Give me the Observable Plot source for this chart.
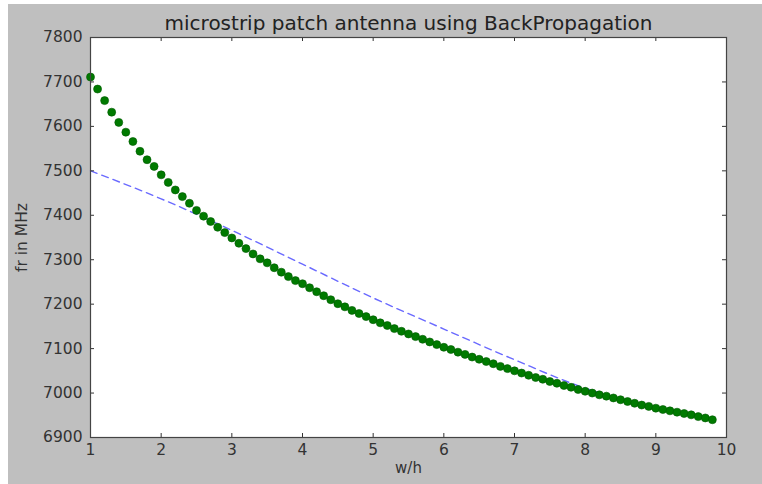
<!DOCTYPE html>
<html>
<head>
<meta charset="utf-8">
<script src="https://cdn.jsdelivr.net/npm/d3@7"></script>
<script src="https://cdn.jsdelivr.net/npm/@observablehq/plot@0.6"></script>
<style>
  html, body { margin: 0; padding: 0; background: #ffffff; }
  #fig { position: absolute; left: 8px; top: 4px; width: 754px; height: 480px; background: #bfbfbf; }
</style>
</head>
<body>
<div id="fig"></div>
<script>
// w/h samples of the BackPropagation output (green dots)
const wh = [1.0,1.1,1.2,1.3,1.4,1.5,1.6,1.7,1.8,1.9,
            2.0,2.1,2.2,2.3,2.4,2.5,2.6,2.7,2.8,2.9,
            3.0,3.1,3.2,3.3,3.4,3.5,3.6,3.7,3.8,3.9,
            4.0,4.1,4.2,4.3,4.4,4.5,4.6,4.7,4.8,4.9,
            5.0,5.1,5.2,5.3,5.4,5.5,5.6,5.7,5.8,5.9,
            6.0,6.1,6.2,6.3,6.4,6.5,6.6,6.7,6.8,6.9,
            7.0,7.1,7.2,7.3,7.4,7.5,7.6,7.7,7.8,7.9,
            8.0,8.1,8.2,8.3,8.4,8.5,8.6,8.7,8.8,8.9,
            9.0,9.1,9.2,9.3,9.4,9.5,9.6,9.7,9.8];
const frBP = [7711,7684,7658,7632,7609,7587,7566,7544,7525,7510,
              7491,7474,7457,7442,7427,7411,7398,7386,7373,7361,
              7349,7337,7325,7313,7302,7293,7282,7272,7262,7253,
              7246,7237,7228,7219,7210,7201,7194,7186,7179,7172,
              7165,7158,7152,7145,7139,7133,7127,7121,7115,7109,
              7103,7098,7092,7087,7081,7076,7071,7066,7060,7055,
              7050,7045,7040,7035,7031,7026,7022,7017,7013,7008,
              7004,7000,6996,6993,6989,6985,6981,6977,6973,6970,
              6966,6963,6960,6957,6954,6951,6947,6944,6940];
// dashed reference curve
const whRef = [1,2,3,4,5,6,7,8,9,9.8];
const frRef = [7500,7437,7366,7290,7214,7144,7075,7011,6968,6941];

const xTicks = [1,2,3,4,5,6,7,8,9,10];
const yTicks = [6900,7000,7100,7200,7300,7400,7500,7600,7700,7800];

const title = "microstrip patch antenna using BackPropagation";
const xLabel = "w/h";
const yLabel = "fr in MHz";

const dots = wh.map((x, i) => ({x, y: frBP[i]}));
const ref = whRef.map((x, i) => ({x, y: frRef[i]}));

const W = 754, H = 480;
const mL = 82, mR = 36, mT = 33, mB = 47;
const pw = W - mL - mR, ph = H - mT - mB;
const tick = 4;

const chart = Plot.plot({
  width: W, height: H,
  marginLeft: mL, marginRight: mR, marginTop: mT, marginBottom: mB,
  style: {background: "#bfbfbf", fontFamily: "DejaVu Sans, sans-serif", fontSize: "14px", color: "#333"},
  x: {domain: [1, 10]},
  y: {domain: [6900, 7800]},
  marks: [
    Plot.frame({fill: "white", stroke: null}),
    Plot.line(ref, {x: "x", y: "y", stroke: "#6a6aff", strokeWidth: 1.4, strokeDasharray: "7,5", curve: "monotone-x"}),
    Plot.dot(dots, {x: "x", y: "y", r: 4, fill: "#007a00", stroke: "#005a00", strokeWidth: 0.6}),
    // inward ticks on all four sides
    Plot.tickY(yTicks, {y: d => d, insetRight: pw - tick, stroke: "#333"}),
    Plot.tickY(yTicks, {y: d => d, insetLeft: pw - tick, stroke: "#333"}),
    Plot.tickX(xTicks, {x: d => d, insetTop: ph - tick, stroke: "#333"}),
    Plot.tickX(xTicks, {x: d => d, insetBottom: ph - tick, stroke: "#333"}),
    Plot.frame({stroke: "#444", strokeWidth: 1.2}),
    Plot.axisY({ticks: yTicks, tickSize: 0, tickPadding: 8, tickFormat: d => String(d), label: null, fontSize: 15.5}),
    Plot.axisX({ticks: xTicks, tickSize: 0, tickPadding: 6, tickFormat: d => String(d), label: null, fontSize: 15.5}),
    Plot.text([title], {frameAnchor: "top", lineAnchor: "middle", textAnchor: "middle", dy: -14, fontSize: 20, fill: "#222", style: "letter-spacing:0.3px"}),
    Plot.text([xLabel], {frameAnchor: "bottom", lineAnchor: "middle", textAnchor: "middle", dy: 31, fontSize: 15, fill: "#333"}),
    Plot.text([yLabel], {frameAnchor: "left", lineAnchor: "middle", textAnchor: "middle", rotate: -90, dx: -68, fontSize: 15.5, fill: "#333"})
  ]
});
document.getElementById("fig").appendChild(chart);
</script>
</body>
</html>
